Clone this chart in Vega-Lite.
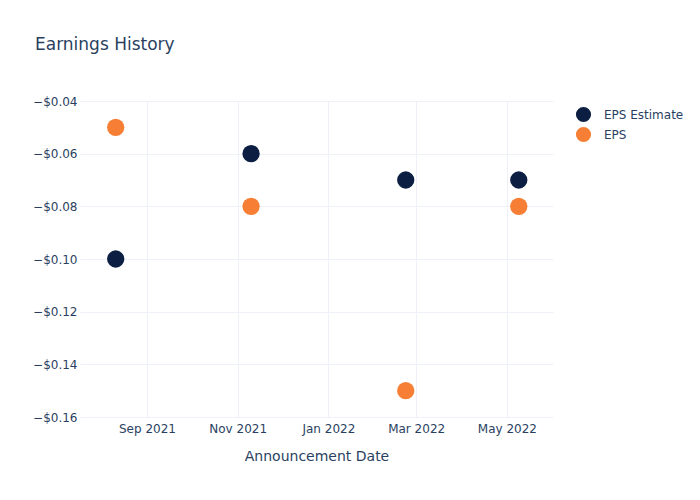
{
  "$schema": "https://vega.github.io/schema/vega-lite/v6.json",
  "autosize": "none",
  "width": 473,
  "height": 316,
  "padding": {"left": 80, "top": 101, "right": 147, "bottom": 83},
  "background": "white",
  "config": {
    "font": "DejaVu Sans",
    "view": {"stroke": null},
    "axis": {"labelColor": "#2a3f5f", "titleColor": "#2a3f5f", "labelFontSize": 12, "gridColor": "#eef1f7", "gridWidth": 1, "domain": false, "ticks": false, "labelFont": "DejaVu Sans", "titleFont": "DejaVu Sans", "titleFontWeight": "normal"},
    "legend": {"labelColor": "#2a3f5f", "labelFontSize": 12, "labelFont": "DejaVu Sans"}
  },
  "title": {
    "text": "Earnings History",
    "anchor": "start",
    "frame": "group",
    "dx": -45,
    "offset": 41,
    "fontSize": 17,
    "fontWeight": "normal",
    "color": "#2a3f5f",
    "font": "DejaVu Sans"
  },
  "data": {
    "values": [
      {"date": "2021-08-11", "series": "EPS Estimate", "value": -0.10},
      {"date": "2021-11-10", "series": "EPS Estimate", "value": -0.06},
      {"date": "2022-02-22", "series": "EPS Estimate", "value": -0.07},
      {"date": "2022-05-09", "series": "EPS Estimate", "value": -0.07},
      {"date": "2021-08-11", "series": "EPS", "value": -0.05},
      {"date": "2021-11-10", "series": "EPS", "value": -0.08},
      {"date": "2022-02-22", "series": "EPS", "value": -0.15},
      {"date": "2022-05-09", "series": "EPS", "value": -0.08}
    ]
  },
  "mark": {"type": "point", "filled": true, "shape": "circle", "size": 300, "opacity": 1},
  "encoding": {
    "x": {
      "field": "date",
      "type": "temporal",
      "scale": {"domain": ["2021-07-18", "2022-06-01"]},
      "axis": {
        "title": "Announcement Date",
        "titleFontSize": 14,
        "titlePadding": 15,
        "format": "%b %Y",
        "values": ["2021-09-01", "2021-11-01", "2022-01-01", "2022-03-01", "2022-05-01"],
        "labelPadding": 6
      }
    },
    "y": {
      "field": "value",
      "type": "quantitative",
      "scale": {"domain": [-0.16, -0.04], "nice": false, "zero": false},
      "axis": {
        "title": null,
        "format": "$.2f",
        "values": [-0.16, -0.14, -0.12, -0.10, -0.08, -0.06, -0.04],
        "labelPadding": 3
      }
    },
    "color": {
      "field": "series",
      "type": "nominal",
      "scale": {"domain": ["EPS Estimate", "EPS"], "range": ["#0c1f42", "#f67f35"]},
      "legend": {"title": null, "orient": "none", "legendX": 495, "legendY": 5, "symbolSize": 230, "symbolType": "circle", "labelOffset": 12, "rowPadding": 3}
    },
    "order": {"field": "series"}
  }
}
